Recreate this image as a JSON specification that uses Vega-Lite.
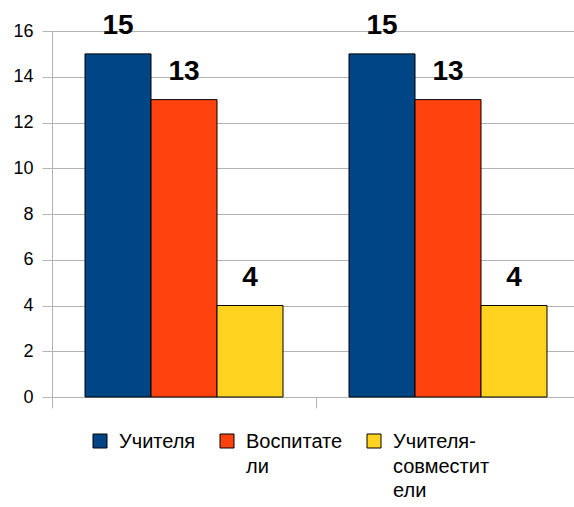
{
  "$schema": "https://vega.github.io/schema/vega-lite/v6.json",
  "width": 528,
  "height": 366,
  "autosize": {"type": "none"},
  "padding": {"left": 52, "top": 31, "right": 0, "bottom": 110},
  "background": "white",
  "config": {
    "font": "Liberation Sans",
    "view": {"stroke": null},
    "axis": {"domainColor": "#b3b3b3", "tickColor": "#b3b3b3", "gridColor": "#b3b3b3", "labelColor": "black"}
  },
  "data": {
    "values": [
      {"group": "1", "series": "Учителя", "value": 15},
      {"group": "1", "series": "Воспитатели", "value": 13},
      {"group": "1", "series": "Учителя-совместители", "value": 4},
      {"group": "2", "series": "Учителя", "value": 15},
      {"group": "2", "series": "Воспитатели", "value": 13},
      {"group": "2", "series": "Учителя-совместители", "value": 4}
    ]
  },
  "encoding": {
    "x": {
      "field": "group", "type": "nominal",
      "scale": {"paddingInner": 0, "paddingOuter": 0},
      "axis": {"title": null, "labels": false, "bandPosition": 0, "tickSize": 11, "grid": false, "domainWidth": 1}
    },
    "xOffset": {
      "field": "series", "type": "nominal",
      "sort": ["Учителя", "Воспитатели", "Учителя-совместители"],
      "scale": {"paddingInner": 0, "paddingOuter": 0.5}
    },
    "y": {
      "field": "value", "type": "quantitative",
      "scale": {"domain": [0, 16], "nice": false},
      "axis": {"title": null, "values": [0, 2, 4, 6, 8, 10, 12, 14, 16], "tickSize": 10, "labelFontSize": 18, "labelPadding": 9, "grid": true}
    }
  },
  "layer": [
    {
      "mark": {"type": "bar", "stroke": "black", "strokeWidth": 1},
      "encoding": {
        "color": {
          "field": "series", "type": "nominal",
          "sort": ["Учителя", "Воспитатели", "Учителя-совместители"],
          "scale": {"domain": ["Учителя", "Воспитатели", "Учителя-совместители"], "range": ["#004586", "#ff420e", "#ffd320"]},
          "legend": {
            "title": null,
            "orient": "none",
            "legendX": 38,
            "legendY": 400,
            "direction": "horizontal",
            "columns": 3,
            "symbolType": "square",
            "symbolSize": 196,
            "symbolStrokeColor": "black",
            "symbolStrokeWidth": 1,
            "labelFontSize": 20,
            "labelLimit": 300,
            "labelBaseline": "top",
            "labelOffset": 9,
            "labelExpr": "datum.label == 'Воспитатели' ? ['Воспитате\u00a0\u00a0\u00a0', 'ли', ''] : datum.label == 'Учителя-совместители' ? ['Учителя-', 'совместит', 'ели'] : [datum.label, '', '']",
            "columnPadding": 21,
            "encode": {"labels": {"update": {"lineHeight": {"value": 24.5}, "dy": {"value": -9}}}}
          }
        }
      }
    },
    {
      "mark": {"type": "text", "fontSize": 28, "fontWeight": "bold", "baseline": "bottom", "dy": -14, "color": "black"},
      "encoding": {"text": {"field": "value", "type": "quantitative"}}
    }
  ]
}
